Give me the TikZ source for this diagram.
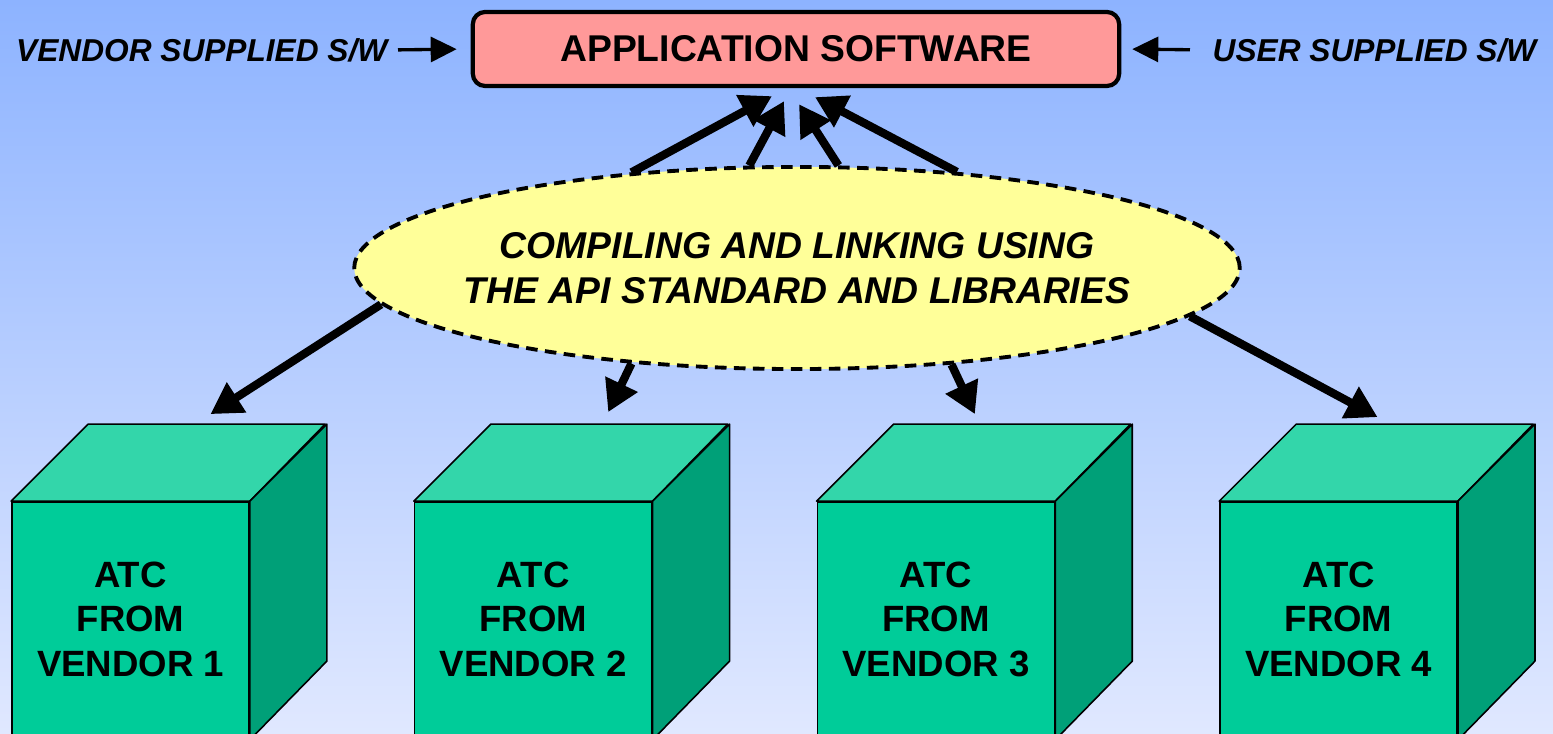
\documentclass[tikz,border=0pt]{standalone}
\usepackage{fontspec}
\setmainfont{Liberation Sans}
\usetikzlibrary{calc}
\usetikzlibrary{arrows.meta}
\usetikzlibrary{positioning}
\usetikzlibrary{shapes.geometric}
\definecolor{SkyTop}{HTML}{8DB3FF}
\definecolor{SkyBottom}{HTML}{E0E8FF}
\definecolor{AppRed}{HTML}{FF9999}
\definecolor{ApiYellow}{HTML}{FFFF99}
\definecolor{CubeFront}{HTML}{00CC99}
\definecolor{CubeTop}{HTML}{33D6AA}
\definecolor{CubeSide}{HTML}{00A078}

\begin{document}
\begin{tikzpicture}[x=0.01cm, y=-0.01cm,
  appbox/.style={draw, line width=1.2pt, rounded corners=3.5pt, fill=AppRed,
    minimum width=6.46cm, minimum height=0.74cm, inner sep=0pt,
    font=\bfseries\fontsize{10.6}{12}\selectfont},
  swlabel/.style={inner sep=0pt, font=\bfseries\itshape\fontsize{9}{11}\selectfont},
  apiellipse/.style={ellipse, draw, dash pattern=on 3.3pt off 2.1pt, line width=1.1pt,
    fill=ApiYellow, minimum width=8.85cm, minimum height=2.02cm, inner sep=0pt},
  apitext/.style={align=center, inner sep=0pt,
    font=\bfseries\itshape\fontsize{10.6}{12.8}\selectfont},
  cubefront/.style={draw, line width=0.45pt, fill=CubeFront, minimum width=2.37cm,
    minimum height=2.37cm, inner sep=0pt, align=center,
    font=\bfseries\fontsize{10.4}{12.5}\selectfont},
  cubeface/.style={draw, line width=0.45pt, line join=round},
  sidearrow/.style={line width=0.95pt, -{Triangle[length=0.26cm, width=0.25cm]}},
  bigarrow/.style={line width=2.35pt, -{Triangle[length=0.31cm, width=0.34cm]}}]

  \useasboundingbox (0,0) rectangle (1553,734);
  \shade[top color=SkyTop, bottom color=SkyBottom] (0,0) rectangle (1553,734);
  \clip (0,0) rectangle (1553,734);

  % top row
  \node[appbox] (app) at (796,49) {APPLICATION SOFTWARE};
  \node[swlabel, anchor=east] (vsw) at (388,50) {VENDOR SUPPLIED S/W};
  \node[swlabel, anchor=west] (usw) at (1212,50) {USER SUPPLIED S/W};
  \draw[sidearrow, shorten <=0.1cm, shorten >=0.14cm] (vsw.east) -- (app.west);
  \draw[sidearrow, shorten <=0.22cm, shorten >=0.11cm] (usw.west) -- (app.east);

  % compiling and linking
  \node[apiellipse] (api) at (797,268) {};
  \node[apitext] (apitxt) at (api.center)
    {COMPILING AND LINKING USING\\THE API STANDARD AND LIBRARIES};

  \foreach \ang/\dx/\dy in {150.8/-24/8, 115.9/-12/13, 68.4/3/16, 31.3/19/9}{%
    \draw[bigarrow] (api.\ang) -- ($(app.south)+(\dx,\dy)$);
  }

  % vendor cubes
  \foreach \i/\ang/\dx/\dy in {1/185.9/80/-87, 2/210.9/75/-89, 3/328.1/39/-87, 4/353.5/39/-84}{%
    \node[cubefront] (v\i) at ({130.5+402.7*(\i-1)},620.5)
      {\raisebox{0.8pt}{\shortstack{ATC\\[2.2pt]FROM\\[2.2pt]VENDOR \i}}};
    \draw[cubeface, fill=CubeTop] (v\i.north west) -- ++(77,-77) -- ++(237,0)
      -- (v\i.north east) -- cycle;
    \draw[cubeface, fill=CubeSide] (v\i.north east) -- ++(77,-77) -- ++(0,237)
      -- (v\i.south east) -- cycle;
    \draw[bigarrow] (api.\ang) -- ($(v\i.north)+(\dx,\dy)$);
  }
\end{tikzpicture}
\end{document}
